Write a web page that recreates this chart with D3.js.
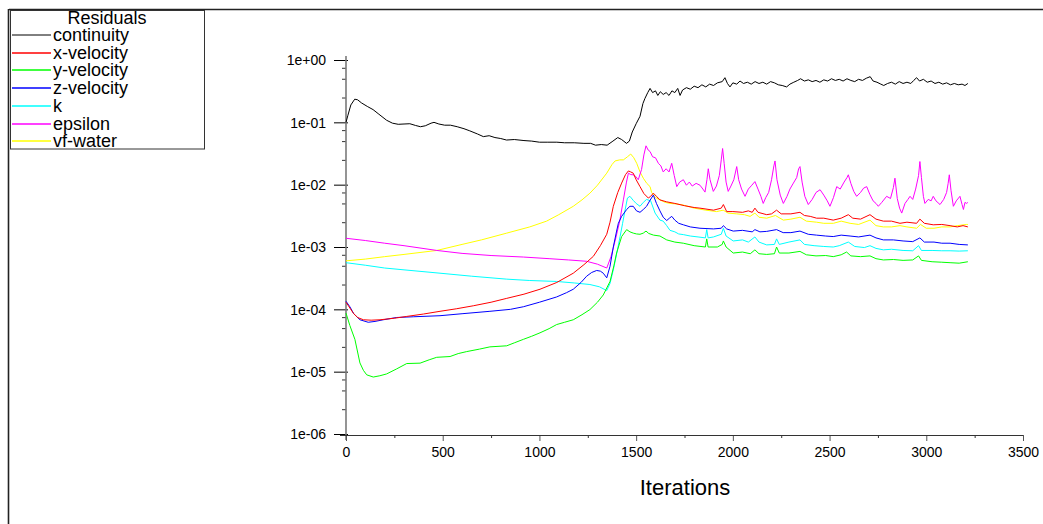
<!DOCTYPE html>
<html>
<head>
<meta charset="utf-8">
<script src="https://cdn.jsdelivr.net/npm/d3@7"></script>
<style>
  html, body { margin: 0; padding: 0; background: #fff; }
  svg { display: block; }
  text { font-family: "Liberation Sans", Arial, sans-serif; fill: #000; }
</style>
</head>
<body>
<svg id="chart" width="1043" height="524"></svg>
<script>
// ---------------- DATA (iteration, residual) ----------------
const seriesNames = ["continuity", "x-velocity", "y-velocity", "z-velocity", "k", "epsilon", "vf-water"];
const seriesColors = ["#000000", "#ff0000", "#00ff00", "#0000ff", "#00ffff", "#ff00ff", "#ffff00"];

const continuity = [[0,0.100],[10,0.13],[25,0.19],[45,0.235],[60,0.23],[80,0.205],[110,0.18],[140,0.16],[170,0.135],[210,0.108],[240,0.097],[270,0.093],[300,0.094],[330,0.095],[360,0.089],[385,0.085],[410,0.088],[440,0.097],[455,0.1],[480,0.094],[510,0.09],[540,0.09],[575,0.085],[610,0.079],[640,0.073],[680,0.065],[710,0.059],[740,0.061],[770,0.057],[800,0.055],[830,0.052],[870,0.053],[920,0.051],[960,0.05],[1000,0.048],[1040,0.048],[1090,0.048],[1130,0.047],[1180,0.047],[1230,0.046],[1265,0.046],[1290,0.043],[1320,0.044],[1350,0.043],[1380,0.05],[1405,0.057],[1425,0.053],[1450,0.046],[1465,0.05],[1480,0.07],[1500,0.095],[1520,0.125],[1535,0.2],[1545,0.24],[1560,0.3],[1572,0.35],[1585,0.3],[1600,0.32],[1612,0.27],[1625,0.31],[1640,0.28],[1655,0.3],[1670,0.27],[1685,0.32],[1700,0.3],[1715,0.35],[1727,0.27],[1740,0.33],[1760,0.36],[1780,0.34],[1800,0.38],[1820,0.36],[1840,0.4],[1860,0.37],[1880,0.41],[1900,0.39],[1920,0.43],[1945,0.45],[1959,0.52],[1972,0.42],[1985,0.37],[2000,0.43],[2020,0.41],[2037,0.46],[2055,0.42],[2075,0.44],[2095,0.41],[2115,0.45],[2135,0.42],[2155,0.44],[2175,0.41],[2195,0.45],[2215,0.43],[2235,0.4],[2255,0.39],[2278,0.37],[2295,0.41],[2315,0.44],[2335,0.47],[2350,0.5],[2370,0.46],[2390,0.48],[2410,0.45],[2430,0.47],[2450,0.44],[2470,0.48],[2490,0.46],[2510,0.5],[2530,0.47],[2550,0.49],[2570,0.46],[2590,0.5],[2610,0.47],[2630,0.45],[2650,0.49],[2670,0.47],[2690,0.51],[2710,0.54],[2725,0.46],[2745,0.44],[2765,0.41],[2780,0.39],[2800,0.42],[2820,0.44],[2840,0.41],[2860,0.45],[2880,0.42],[2900,0.44],[2920,0.42],[2935,0.47],[2950,0.52],[2965,0.46],[2985,0.49],[3005,0.44],[3025,0.46],[3045,0.42],[3065,0.44],[3085,0.41],[3105,0.43],[3125,0.4],[3145,0.42],[3165,0.4],[3185,0.41],[3200,0.39],[3215,0.42]];

const xVelocity = [[0,1.3e-4],[20,1.05e-4],[40,8.5e-5],[60,7.4e-5],[90,6.8e-5],[130,6.7e-5],[176,6.8e-5],[250,7.2e-5],[314,7.7e-5],[400,8.4e-5],[486,9.3e-5],[570,1.02e-4],[658,1.14e-4],[750,1.3e-4],[831,1.5e-4],[920,1.75e-4],[1003,2.1e-4],[1090,2.7e-4],[1175,3.8e-4],[1230,5.2e-4],[1279,7.1e-4],[1315,1.05e-3],[1348,1.6e-3],[1365,2.5e-3],[1382,4.5e-3],[1405,7.5e-3],[1425,0.0106],[1445,0.0145],[1460,0.0166],[1472,0.016],[1485,0.0153],[1500,0.012],[1520,0.0093],[1540,0.0072],[1563,0.0061],[1575,0.0065],[1589,0.0073],[1605,0.0065],[1623,0.0057],[1658,0.0053],[1700,0.005],[1750,0.0046],[1800,0.0043],[1830,0.0042],[1900,0.0039],[1940,0.0042],[1951,0.0048],[1968,0.0037],[2000,0.0037],[2050,0.0036],[2080,0.0038],[2100,0.0036],[2114,0.0042],[2130,0.0036],[2175,0.0033],[2200,0.0034],[2226,0.0039],[2250,0.0034],[2300,0.0034],[2347,0.0036],[2370,0.0032],[2400,0.0031],[2433,0.0029],[2470,0.0029],[2519,0.0027],[2560,0.0029],[2597,0.0033],[2620,0.0029],[2660,0.0028],[2709,0.0033],[2740,0.0028],[2778,0.0026],[2820,0.0026],[2864,0.0024],[2900,0.0025],[2950,0.0024],[2967,0.0028],[2990,0.0024],[3036,0.00227],[3080,0.0023],[3123,0.0022],[3160,0.0021],[3190,0.0022],[3215,0.0021]];

const yVelocity = [[0,8.7e-5],[20,5.5e-5],[46,3.3e-5],[72,1.38e-5],[90,1.05e-5],[107,8.9e-6],[141,8.2e-6],[175,8.6e-6],[210,9.2e-6],[260,1.1e-5],[314,1.35e-5],[383,1.37e-5],[430,1.55e-5],[469,1.7e-5],[538,1.75e-5],[580,1.95e-5],[624,2.1e-5],[690,2.3e-5],[744,2.5e-5],[831,2.6e-5],[870,2.9e-5],[917,3.3e-5],[960,3.7e-5],[1003,4.2e-5],[1050,4.9e-5],[1089,5.7e-5],[1130,6.2e-5],[1175,6.8e-5],[1220,8.2e-5],[1261,9.9e-5],[1300,1.3e-4],[1330,1.7e-4],[1365,2.8e-4],[1385,5e-4],[1399,8e-4],[1425,1.47e-3],[1451,1.9e-3],[1468,1.75e-3],[1485,1.67e-3],[1502,1.62e-3],[1520,1.6e-3],[1537,1.67e-3],[1551,1.8e-3],[1565,1.65e-3],[1590,1.55e-3],[1623,1.5e-3],[1658,1.3e-3],[1700,1.2e-3],[1744,1.15e-3],[1800,1.05e-3],[1858,1.0e-3],[1865,1.35e-3],[1872,1.0e-3],[1920,1.0e-3],[1945,1.1e-3],[1951,1.25e-3],[1965,1.0e-3],[2002,8.0e-4],[2050,8.3e-4],[2090,7.8e-4],[2114,9e-4],[2135,7.8e-4],[2175,7.6e-4],[2215,7.8e-4],[2226,1.0e-3],[2240,8e-4],[2290,8e-4],[2347,8.5e-4],[2380,7.5e-4],[2430,7.2e-4],[2480,7.3e-4],[2519,7.0e-4],[2560,7.5e-4],[2588,8.3e-4],[2610,7.2e-4],[2660,7.0e-4],[2709,7.2e-4],[2740,6.5e-4],[2778,6.2e-4],[2830,6.3e-4],[2880,6.1e-4],[2930,6.2e-4],[2960,7.2e-4],[2975,6.1e-4],[3030,5.8e-4],[3080,5.7e-4],[3123,5.6e-4],[3170,5.5e-4],[3215,5.8e-4]];

const zVelocity = [[0,1.35e-4],[20,1.1e-4],[40,8.5e-5],[72,6.8e-5],[115,6.2e-5],[150,6.4e-5],[193,6.8e-5],[262,7.4e-5],[350,7.6e-5],[486,7.9e-5],[600,8.5e-5],[744,9.3e-5],[850,1.0e-4],[917,1.1e-4],[1000,1.3e-4],[1089,1.58e-4],[1140,1.85e-4],[1175,2.1e-4],[1215,2.7e-4],[1244,3.4e-4],[1270,3.9e-4],[1296,4.2e-4],[1315,4.1e-4],[1330,3.8e-4],[1348,3.2e-4],[1365,4.9e-4],[1382,1.0e-3],[1399,1.8e-3],[1408,2.4e-3],[1425,3.1e-3],[1451,4.0e-3],[1468,4.5e-3],[1485,4.5e-3],[1502,3.8e-3],[1520,3.6e-3],[1537,4.0e-3],[1554,4.5e-3],[1570,5.5e-3],[1589,6.8e-3],[1605,5.0e-3],[1623,3.8e-3],[1640,3.0e-3],[1658,2.66e-3],[1672,2.9e-3],[1684,3.1e-3],[1700,2.7e-3],[1720,2.4e-3],[1744,2.27e-3],[1780,2.1e-3],[1830,2.0e-3],[1900,1.95e-3],[1940,2.0e-3],[1951,2.2e-3],[1968,1.95e-3],[2002,1.8e-3],[2050,1.85e-3],[2100,1.75e-3],[2114,1.9e-3],[2140,1.75e-3],[2175,1.78e-3],[2226,1.9e-3],[2260,1.7e-3],[2300,1.7e-3],[2347,1.8e-3],[2390,1.6e-3],[2433,1.55e-3],[2480,1.5e-3],[2519,1.47e-3],[2560,1.55e-3],[2606,1.5e-3],[2650,1.45e-3],[2709,1.55e-3],[2740,1.4e-3],[2778,1.3e-3],[2830,1.3e-3],[2880,1.25e-3],[2930,1.22e-3],[2967,1.4e-3],[2990,1.2e-3],[3040,1.2e-3],[3080,1.15e-3],[3123,1.15e-3],[3170,1.1e-3],[3215,1.08e-3]];

const kResid = [[0,5.6e-4],[100,5.1e-4],[200,4.6e-4],[300,4.3e-4],[486,3.8e-4],[650,3.4e-4],[831,3.05e-4],[950,2.9e-4],[1089,2.8e-4],[1180,2.65e-4],[1261,2.5e-4],[1310,2.3e-4],[1348,2.0e-4],[1365,2.6e-4],[1382,4.3e-4],[1400,8e-4],[1417,1.47e-3],[1430,2.4e-3],[1442,3.8e-3],[1455,6.1e-3],[1468,6.5e-3],[1485,5.6e-3],[1500,5.0e-3],[1520,4.5e-3],[1537,5.2e-3],[1554,5.8e-3],[1575,5.5e-3],[1598,3.5e-3],[1623,2.7e-3],[1640,2.6e-3],[1658,2.2e-3],[1675,1.85e-3],[1700,1.75e-3],[1720,1.62e-3],[1744,1.58e-3],[1780,1.5e-3],[1820,1.45e-3],[1858,1.4e-3],[1865,1.9e-3],[1872,1.4e-3],[1900,1.45e-3],[1940,1.6e-3],[1951,2.0e-3],[1965,1.5e-3],[2002,1.25e-3],[2050,1.3e-3],[2080,1.2e-3],[2114,1.45e-3],[2135,1.2e-3],[2175,1.08e-3],[2215,1.1e-3],[2226,1.35e-3],[2240,1.1e-3],[2290,1.2e-3],[2347,1.3e-3],[2370,1.1e-3],[2420,1.05e-3],[2470,1.02e-3],[2519,1.0e-3],[2550,1.05e-3],[2597,1.2e-3],[2630,1.02e-3],[2680,0.98e-3],[2709,1.05e-3],[2740,0.95e-3],[2778,9.0e-4],[2820,9.2e-4],[2880,8.8e-4],[2930,8.7e-4],[2960,1.05e-3],[2975,8.8e-4],[3030,8.8e-4],[3080,8.7e-4],[3123,8.7e-4],[3170,8.6e-4],[3215,8.7e-4]];

const epsilon = [[0,1.38e-3],[100,1.27e-3],[200,1.15e-3],[300,1.05e-3],[470,8.8e-4],[600,7.9e-4],[750,7.3e-4],[917,6.9e-4],[1050,6.5e-4],[1150,6.2e-4],[1244,5.9e-4],[1300,5.3e-4],[1348,4.6e-4],[1370,7e-4],[1395,1.4e-3],[1415,2.6e-3],[1434,5.7e-3],[1450,0.011],[1460,0.0153],[1472,0.0145],[1485,0.0144],[1498,0.0135],[1511,0.012],[1528,0.0175],[1540,0.03],[1551,0.042],[1562,0.036],[1572,0.034],[1585,0.028],[1600,0.027],[1615,0.022],[1628,0.02],[1640,0.016],[1655,0.018],[1670,0.016],[1684,0.022],[1697,0.014],[1710,0.0093],[1725,0.011],[1744,0.012],[1760,0.0098],[1775,0.011],[1790,0.0095],[1810,0.0105],[1830,0.0098],[1845,0.0085],[1856,0.0076],[1866,0.012],[1873,0.018],[1882,0.012],[1899,0.0078],[1915,0.0095],[1930,0.014],[1940,0.025],[1947,0.038],[1955,0.022],[1965,0.011],[1976,0.0078],[1990,0.0095],[2005,0.012],[2020,0.0195],[2030,0.012],[2045,0.0085],[2063,0.0065],[2080,0.0085],[2098,0.0098],[2114,0.0112],[2130,0.0085],[2145,0.0065],[2157,0.005],[2170,0.0062],[2185,0.0075],[2200,0.012],[2212,0.02],[2218,0.024],[2228,0.012],[2245,0.0068],[2261,0.005],[2280,0.0065],[2295,0.0085],[2313,0.0106],[2330,0.013],[2340,0.018],[2347,0.0195],[2358,0.011],[2372,0.0065],[2390,0.0048],[2410,0.0058],[2430,0.0075],[2451,0.0083],[2470,0.0068],[2488,0.0055],[2502,0.0045],[2520,0.0062],[2537,0.0093],[2555,0.0085],[2575,0.011],[2590,0.013],[2597,0.0144],[2610,0.0105],[2625,0.0078],[2640,0.0065],[2660,0.0075],[2676,0.0088],[2692,0.0093],[2708,0.007],[2725,0.0055],[2740,0.005],[2752,0.0045],[2770,0.0052],[2795,0.0065],[2815,0.006],[2830,0.009],[2838,0.0127],[2850,0.006],[2862,0.0042],[2873,0.0035],[2890,0.005],[2905,0.0058],[2916,0.0065],[2930,0.0058],[2945,0.0085],[2960,0.014],[2967,0.0235],[2975,0.013],[2985,0.0065],[2993,0.005],[3010,0.0058],[3025,0.0055],[3036,0.0065],[3050,0.0055],[3071,0.0048],[3090,0.0058],[3105,0.0075],[3113,0.0105],[3119,0.0144],[3128,0.008],[3140,0.0045],[3155,0.0055],[3174,0.0065],[3185,0.0048],[3192,0.004],[3200,0.0052],[3209,0.005],[3215,0.0052]];

const vfWater = [[0,6.0e-4],[100,6.4e-4],[200,7.0e-4],[300,7.6e-4],[469,8.8e-4],[600,1.1e-3],[700,1.3e-3],[831,1.67e-3],[950,2.1e-3],[1037,2.6e-3],[1100,3.3e-3],[1175,4.5e-3],[1220,5.7e-3],[1261,7.3e-3],[1300,9.8e-3],[1348,0.0153],[1375,0.021],[1391,0.024],[1415,0.025],[1434,0.025],[1455,0.028],[1472,0.031],[1488,0.027],[1503,0.022],[1520,0.016],[1537,0.0127],[1555,0.0105],[1572,0.0093],[1580,0.0075],[1600,0.0062],[1623,0.0057],[1650,0.0052],[1675,0.005],[1710,0.0049],[1744,0.0047],[1800,0.0042],[1860,0.0039],[1916,0.0037],[1950,0.0039],[1975,0.0035],[2020,0.0034],[2060,0.0033],[2089,0.0031],[2114,0.0035],[2135,0.003],[2175,0.0029],[2220,0.0032],[2261,0.0027],[2300,0.0028],[2347,0.003],[2380,0.0026],[2433,0.0025],[2470,0.0024],[2520,0.0024],[2560,0.0026],[2606,0.0024],[2650,0.0023],[2709,0.0027],[2740,0.0022],[2778,0.0021],[2820,0.0021],[2864,0.0022],[2900,0.0021],[2950,0.002],[2970,0.0023],[3000,0.002],[3040,0.002],[3080,0.0021],[3123,0.0021],[3160,0.0022],[3209,0.0023],[3215,0.0023]];

const seriesData = [continuity, xVelocity, yVelocity, zVelocity, kResid, epsilon, vfWater];

const xMajorTicks = [0, 500, 1000, 1500, 2000, 2500, 3000, 3500];
const xMinorTicks = [250, 750, 1250, 1750, 2250, 2750, 3250];
const yMajorTicks = [1, 1e-1, 1e-2, 1e-3, 1e-4, 1e-5, 1e-6];
const yTickLabels = ["1e+00", "1e-01", "1e-02", "1e-03", "1e-04", "1e-05", "1e-06"];
const yMinorMantissas = [7.5, 5, 2.5];

// ---------------- DRAWING ----------------
const svg = d3.select("#chart");
const x = d3.scaleLinear().domain([0, 3500]).range([346, 1023]);
const y = d3.scaleLog().domain([1e-6, 1]).range([434, 60]);

// outer frame
svg.append("line").attr("x1", 9).attr("x2", 1043).attr("y1", 9.5).attr("y2", 9.5)
  .attr("stroke", "#222").attr("stroke-width", 1.6);
svg.append("line").attr("x1", 8.5).attr("x2", 8.5).attr("y1", 9).attr("y2", 524)
  .attr("stroke", "#222").attr("stroke-width", 1.6);

// y minor ticks
const yMinor = [];
yMajorTicks.slice(0, -1).forEach(v => yMinorMantissas.forEach(m => yMinor.push(v / 10 * m)));
const yMinorAxis = d3.axisLeft(y).tickValues(yMinor).tickSize(4).tickFormat("");
const gyMinor = svg.append("g").attr("transform", "translate(346,0)").call(yMinorAxis);
gyMinor.select(".domain").remove();
gyMinor.selectAll("line").attr("stroke", "#333");

// y major
const yAxis = d3.axisLeft(y).tickValues(yMajorTicks).tickSize(12)
  .tickFormat((d, i) => yTickLabels[i]);
const gy = svg.append("g").attr("transform", "translate(346,0)").call(yAxis);
gy.select(".domain").remove();
gy.selectAll(".tick line").attr("stroke", "#000").attr("x1", 2);
gy.selectAll(".tick text").attr("x", -20).attr("dy", "0.35em")
  .style("font-size", "14px").style("font-family", '"Liberation Sans", Arial, sans-serif');
svg.append("line").attr("x1", 346).attr("x2", 346).attr("y1", 56).attr("y2", 440)
  .attr("stroke", "#7a7a7a").attr("stroke-width", 1.6);

// x minor ticks
const xMinorAxis = d3.axisBottom(x).tickValues(xMinorTicks).tickSize(3).tickFormat("");
const gxMinor = svg.append("g").attr("transform", "translate(0,435)").call(xMinorAxis);
gxMinor.select(".domain").remove();
gxMinor.selectAll("line").attr("stroke", "#333");

const xAxis = d3.axisBottom(x).tickValues(xMajorTicks).tickSize(6).tickFormat(d3.format("d"));
const gx = svg.append("g").attr("transform", "translate(0,435)").call(xAxis);
gx.select(".domain").remove();
gx.selectAll(".tick line").attr("stroke", "#555");
gx.selectAll(".tick text").attr("y", 12).attr("dy", "0.71em")
  .style("font-size", "14px").style("font-family", '"Liberation Sans", Arial, sans-serif');
svg.append("line").attr("x1", 340).attr("x2", 1023).attr("y1", 435.5).attr("y2", 435.5)
  .attr("stroke", "#333").attr("stroke-width", 1);

// axis title
svg.append("text").attr("x", 685).attr("y", 495).attr("text-anchor", "middle")
  .style("font-size", "22px").text("Iterations");

// series lines
const line = d3.line().x(d => x(d[0])).y(d => y(d[1]));
const order = [6, 5, 4, 3, 2, 1, 0];
order.forEach(i => {
  svg.append("path").datum(seriesData[i]).attr("d", line)
    .attr("fill", "none").attr("stroke", seriesColors[i]).attr("stroke-width", 1)
    .attr("stroke-linejoin", "round");
});

// legend
const lg = svg.append("g");
lg.append("rect").attr("x", 10.5).attr("y", 10.5).attr("width", 194).attr("height", 138.5)
  .attr("fill", "#fff").attr("stroke", "#333").attr("stroke-width", 1);
lg.append("text").attr("x", 107).attr("y", 24).attr("text-anchor", "middle")
  .style("font-size", "18px").text("Residuals");
seriesNames.forEach((name, i) => {
  const cy = Math.round(35 + i * 17.7);
  lg.append("line").attr("x1", 12).attr("x2", 51).attr("y1", cy).attr("y2", cy)
    .attr("stroke", seriesColors[i]).attr("stroke-width", i === 0 ? 1 : 1.3);
  lg.append("text").attr("x", 53).attr("y", cy).attr("dy", "0.35em")
    .style("font-size", "18px").text(name);
});
</script>
</body>
</html>
